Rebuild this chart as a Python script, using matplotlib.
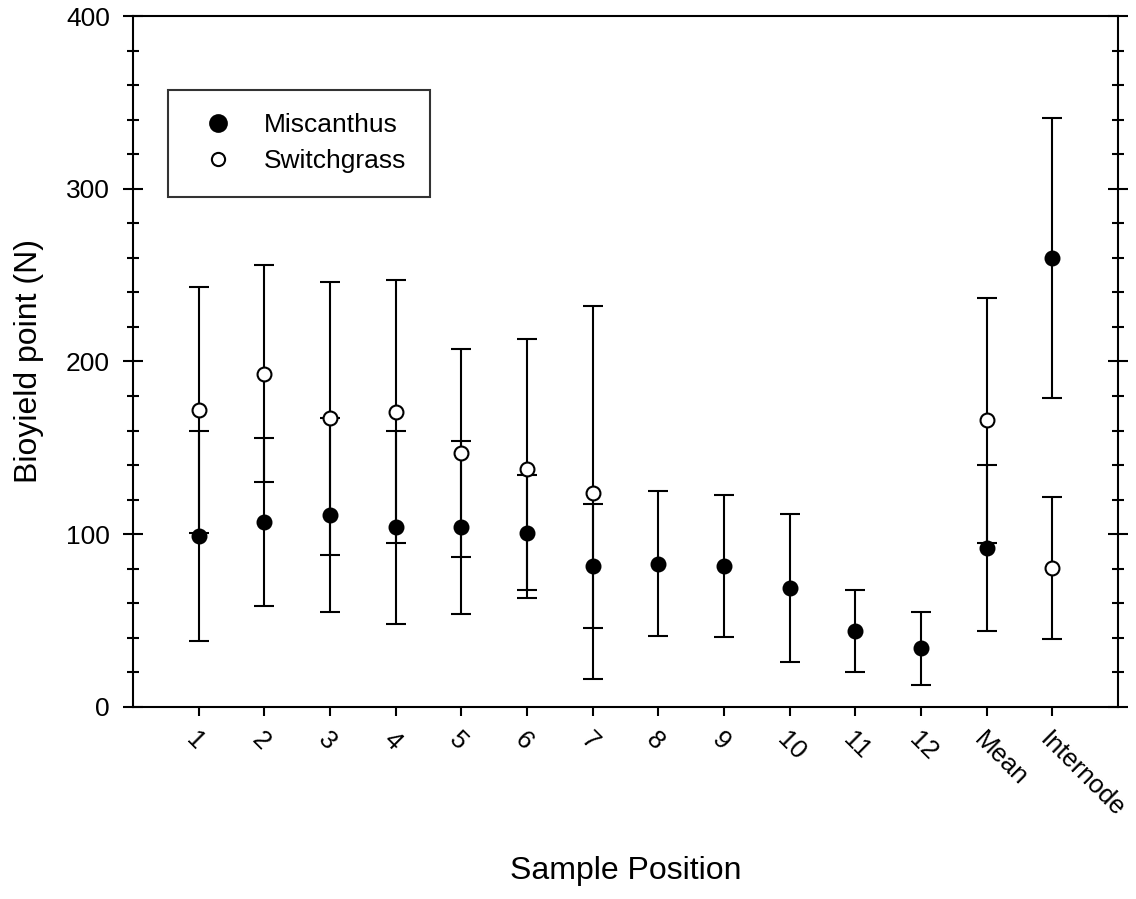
import matplotlib
matplotlib.use("Agg")
import matplotlib.pyplot as plt
from matplotlib.lines import Line2D
from matplotlib.ticker import MultipleLocator
import numpy as np

plt.rcParams['font.family'] = ['Liberation Sans', 'DejaVu Sans']

positions = ["1", "2", "3", "4", "5", "6", "7", "8", "9", "10", "11", "12", "Mean", "Internode"]

# Miscanthus, all 14 positions
misc_mean = [99, 107, 111, 104, 104, 101, 81.5, 83, 81.5, 69, 44, 34, 92, 260]
misc_err = [61, 48.5, 56, 56, 50, 33, 36, 42, 41, 43, 24, 21, 48, 81]

# Switchgrass, positions 1-7, Mean and Internode
sw_pos = ["1", "2", "3", "4", "5", "6", "7", "Mean", "Internode"]
sw_mean = [172, 193, 167, 171, 147, 138, 124, 166, 80.5]
sw_err = [71, 63, 79, 76, 60, 75, 108, 71, 41]

x = np.arange(1, len(positions) + 1)
x_sw = np.array([positions.index(p) + 1 for p in sw_pos])

fig = plt.figure(figsize=(11.36, 8.99), dpi=100)
ax = fig.add_axes([0.1171, 0.2136, 0.8671, 0.7686])

eb = dict(fmt='o', ms=10, color='black', ecolor='black', elinewidth=1.5,
          capsize=7, capthick=1.5, markeredgewidth=1.5)
ax.errorbar(x, misc_mean, yerr=misc_err, mfc='black', mec='black', zorder=3, **eb)
ax.errorbar(x_sw, sw_mean, yerr=sw_err, mfc='white', mec='black', zorder=3, **eb)

ax.set_xlim(0, 15)
ax.set_ylim(0, 400)
ax.set_xticks(x)
ax.set_xticklabels(positions, rotation=-45, ha='left', va='top',
                   rotation_mode='anchor')
ax.yaxis.set_major_locator(MultipleLocator(100))
ax.yaxis.set_minor_locator(MultipleLocator(20))

ax.tick_params(axis='x', direction='out', length=6.5, width=1.5,
               labelsize=18.5, pad=8, top=False)
ax.tick_params(axis='y', which='major', direction='inout', length=14, width=1.5,
               labelsize=19, right=True, pad=9.5)
ax.tick_params(axis='y', which='minor', direction='inout', length=8, width=1.5,
               right=True)
for s in ax.spines.values():
    s.set_linewidth(1.5)

ax.set_xlabel("Sample Position", fontsize=23, labelpad=25)
ax.set_ylabel("Bioyield point (N)", fontsize=23, labelpad=16)

handles = [Line2D([], [], ls='none', marker='o', ms=12, mfc='black', mec='black', mew=1.5),
           Line2D([], [], ls='none', marker='o', ms=9.5, mfc='white', mec='black', mew=1.5)]
leg = ax.legend(handles, ["Miscanthus", "Switchgrass"], loc='upper left',
                bbox_to_anchor=(0.0355, 0.8935), fontsize=19, frameon=True,
                fancybox=False, edgecolor='black', borderpad=0.9,
                labelspacing=0.45, handlelength=2.0, handletextpad=0.75,
                borderaxespad=0)
leg.get_frame().set_linewidth(1.5)

fig.savefig("out.png", dpi=100)
